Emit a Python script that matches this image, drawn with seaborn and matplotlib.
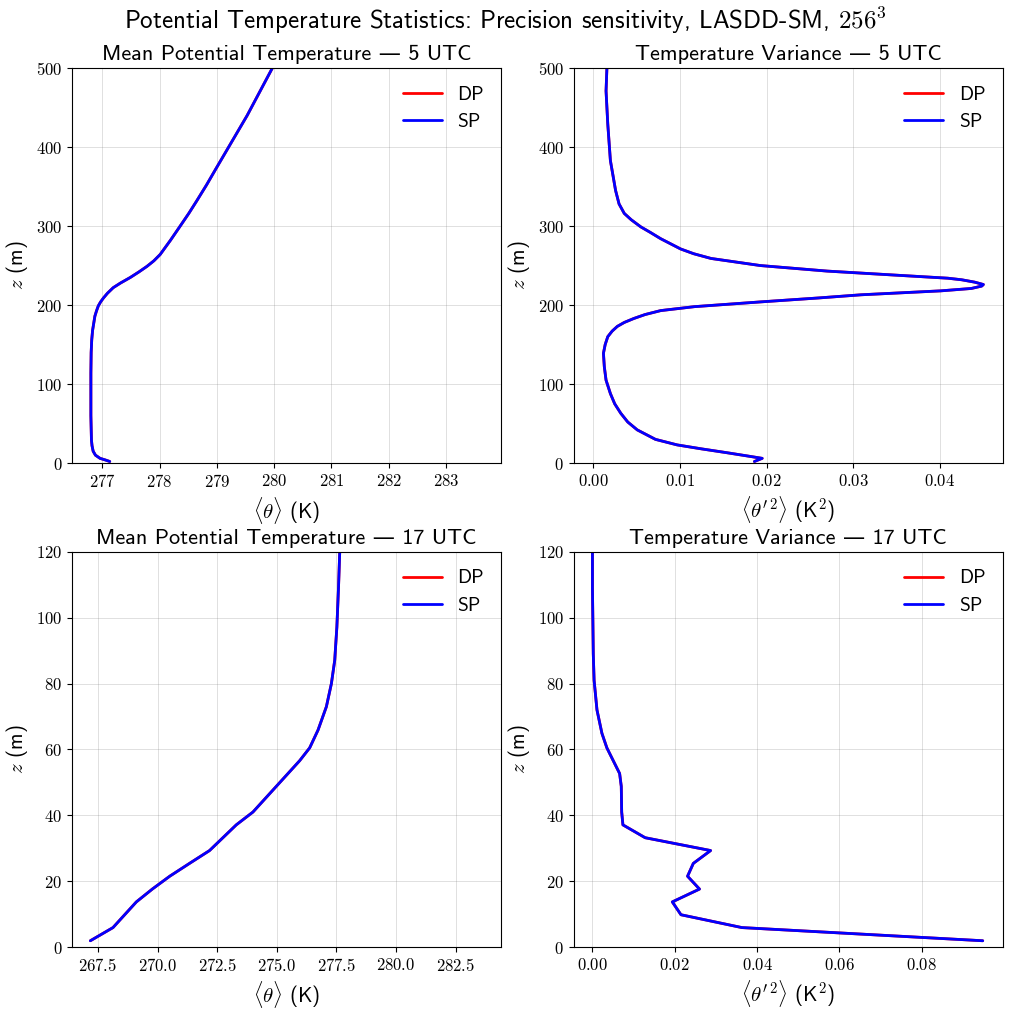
import matplotlib
matplotlib.use("Agg")
import matplotlib.pyplot as plt
import seaborn as sns

# 5 UTC mean potential temperature profile
z_theta_5 = [2, 4, 6, 10, 15, 22, 29, 60, 114, 140, 156, 168, 177, 186, 193, 199, 204, 209,
             215, 222, 228, 235, 242, 249, 256, 264, 282, 300, 316, 332, 352, 372, 440, 500]
theta_5 = [277.13, 277.05, 276.96, 276.88, 276.84, 276.82, 276.81, 276.80, 276.80, 276.805,
           276.815, 276.83, 276.85, 276.87, 276.90, 276.93, 276.97, 277.02, 277.09, 277.19,
           277.32, 277.49, 277.64, 277.78, 277.90, 278.01, 278.19, 278.36, 278.51, 278.65,
           278.82, 278.98, 279.53, 279.97]

# 5 UTC temperature variance profile
z_var_5 = [2, 6, 9, 13, 18, 23, 30, 42, 52, 63, 75, 88, 105, 122, 139, 150, 160, 167, 173,
           178, 183, 188, 193, 198, 204, 209, 213, 218, 221, 224, 226, 229, 232, 234, 238,
           243, 250, 259, 265, 271, 284, 292, 299, 308, 316, 328, 345, 383, 429, 471, 500]
var_5 = [0.0186, 0.0195, 0.0178, 0.0155, 0.0125, 0.0097, 0.0072, 0.0051, 0.0040, 0.0032,
         0.0025, 0.0020, 0.0015, 0.0013, 0.0012, 0.0014, 0.0017, 0.0022, 0.0028, 0.0036,
         0.0047, 0.0060, 0.0078, 0.0117, 0.0193, 0.0260, 0.0309, 0.0401, 0.0436, 0.0448,
         0.0450, 0.0440, 0.0425, 0.0409, 0.0347, 0.0270, 0.0193, 0.0136, 0.0116, 0.0101,
         0.0078, 0.0066, 0.0055, 0.0044, 0.0036, 0.0030, 0.0026, 0.0020, 0.0017, 0.0015,
         0.0016]

# 17 UTC mean potential temperature profile
z_theta_17 = [1.9, 5.9, 13.7, 17.6, 21.5, 25.4, 29.3, 37.1, 41.0, 48.8, 56.6, 60.5, 65.9,
              73.0, 80.0, 87.1, 97.2, 109.4, 120.0]
theta_17 = [267.18, 268.13, 269.11, 269.78, 270.51, 271.34, 272.18, 273.30, 274.00, 274.98,
            275.96, 276.38, 276.73, 277.08, 277.29, 277.43, 277.52, 277.59, 277.64]

# 17 UTC temperature variance profile
z_var_17 = [1.9, 5.9, 9.8, 13.7, 17.6, 21.5, 25.4, 29.3, 33.2, 37.1, 41.0, 48.8, 52.7,
            60.5, 64.9, 72.0, 81.0, 89.0, 109.0, 120.0]
var_17 = [0.0948, 0.0363, 0.0215, 0.0194, 0.0260, 0.0231, 0.0245, 0.0287, 0.0128, 0.0074,
          0.0071, 0.0070, 0.0066, 0.0035, 0.0023, 0.0011, 0.0004, 0.0002, 0.0000, 0.0000]

titles = ["Mean Potential Temperature — 5 UTC", "Temperature Variance — 5 UTC",
          "Mean Potential Temperature — 17 UTC", "Temperature Variance — 17 UTC"]
xlabels = [r"$\langle\theta\rangle$ (K)", r"$\langle\theta'^2\rangle$ (K$^2$)",
           r"$\langle\theta\rangle$ (K)", r"$\langle\theta'^2\rangle$ (K$^2$)"]

sns.set_style("ticks")
plt.rcParams["font.family"] = ["cmss10", "DejaVu Sans"]
plt.rcParams["mathtext.fontset"] = "cm"
plt.rcParams["axes.formatter.use_mathtext"] = True
plt.rcParams["axes.unicode_minus"] = False
for key in ["text.color", "axes.labelcolor", "xtick.color", "ytick.color", "axes.edgecolor"]:
    plt.rcParams[key] = "black"

fig, axes = plt.subplots(2, 2, figsize=(10.11, 10.11), dpi=100)
fig.subplots_adjust(left=0.0712, right=0.992, top=0.9327, bottom=0.0633,
                    wspace=0.168, hspace=0.225)

profiles = [(theta_5, z_theta_5), (var_5, z_var_5), (theta_17, z_theta_17), (var_17, z_var_17)]
xlims = [(276.47, 283.97), (-0.00225, 0.04725), (266.41, 284.42), (-0.0046, 0.0997)]
ylims = [(0, 500), (0, 500), (0, 120), (0, 120)]

for ax, (xv, zv), title, xl, xlim, ylim in zip(axes.flat, profiles, titles, xlabels, xlims, ylims):
    sns.lineplot(x=xv, y=zv, ax=ax, sort=False, estimator=None, color="red", lw=2, label="DP")
    sns.lineplot(x=xv, y=zv, ax=ax, sort=False, estimator=None, color="blue", lw=2, label="SP")
    ax.set_xlim(*xlim)
    ax.set_ylim(*ylim)
    ax.set_title(title, fontsize=16)
    ax.set_xlabel(xl, fontsize=15)
    ax.set_ylabel(r"$z$ (m)", fontsize=15)
    ax.grid(True, color="gray", alpha=0.25, lw=0.7)
    ax.legend(fontsize=14, frameon=False, loc="upper right")
    for lab in ax.get_xticklabels() + ax.get_yticklabels():
        lab.set_fontfamily("cmr10")
    ax.tick_params(labelsize=12)

fig.suptitle(r"Potential Temperature Statistics: Precision sensitivity, LASDD-SM, $256^3$",
             fontsize=18, y=0.995)

plt.savefig("out.png", dpi=100)
